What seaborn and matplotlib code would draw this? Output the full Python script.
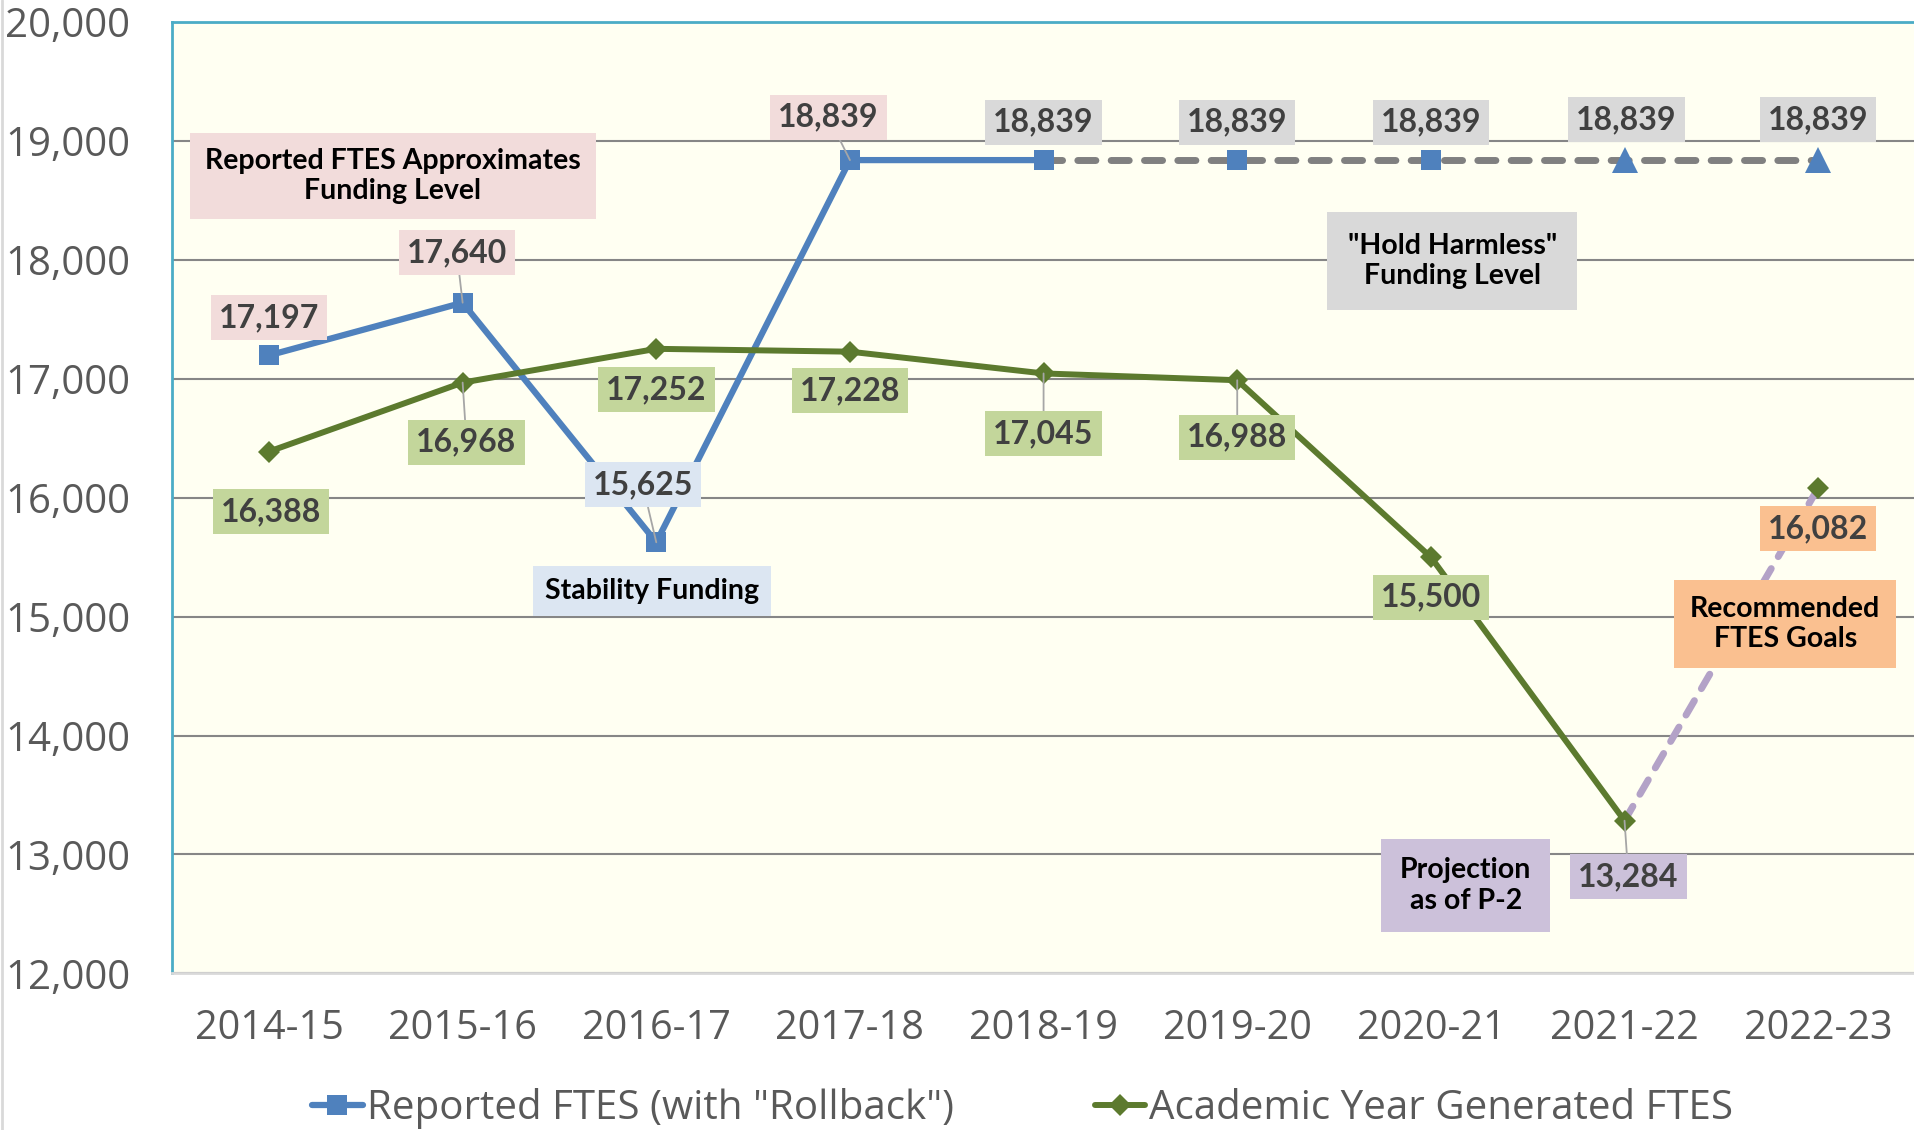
import matplotlib
matplotlib.use('Agg')
import matplotlib.pyplot as plt
import seaborn as sns
import pandas as pd
import numpy as np

# Data
years = ['2014-15', '2015-16', '2016-17', '2017-18', '2018-19',
         '2019-20', '2020-21', '2021-22', '2022-23']
reported_years = ['2014-15', '2015-16', '2016-17', '2017-18', '2018-19']
reported = [17197, 17640, 15625, 18839, 18839]
hold_years = ['2018-19', '2019-20', '2020-21', '2021-22', '2022-23']
hold_harmless = [18839, 18839, 18839, 18839, 18839]
hold_markers = ['', 's', 's', '^', '^']
academic_years = ['2014-15', '2015-16', '2016-17', '2017-18', '2018-19',
                  '2019-20', '2020-21', '2021-22']
academic = [16388, 16968, 17252, 17228, 17045, 16988, 15500, 13284]
goal_years = ['2021-22', '2022-23']
goal = [13284, 16082]

BLUE = '#4F81BD'
GREEN = '#5C7A2E'
GREY_DASH = '#808080'
LAVENDER = '#B3A2C7'
PINK_BOX = '#F2DCDB'
BLUE_BOX = '#DCE6F2'
GREEN_BOX = '#C3D69B'
GREY_BOX = '#D9D9D9'
LAV_BOX = '#CCC1DA'
ORANGE_BOX = '#FAC090'

sns.set_style('white')
plt.rcParams['font.family'] = ['Open Sans', 'DejaVu Sans']

pos = {y: i for i, y in enumerate(years)}
df_rep = pd.DataFrame({'x': [pos[y] for y in reported_years], 'v': reported})
df_hold = pd.DataFrame({'x': [pos[y] for y in hold_years], 'v': hold_harmless, 'm': hold_markers})
df_acad = pd.DataFrame({'x': [pos[y] for y in academic_years], 'v': academic})
df_goal = pd.DataFrame({'x': [pos[y] for y in goal_years], 'v': goal})

fig = plt.figure(figsize=(19.15, 11.30), dpi=100, facecolor='white')
ax = fig.add_axes([0.0899, 0.1386, 0.9101, 0.8419])
ax.set_facecolor('#FFFFF2')

# dashed hold harmless line
sns.lineplot(data=df_hold, x='x', y='v', ax=ax, color=GREY_DASH, lw=5,
             linestyle=(0, (2.6, 2.2)), dash_capstyle='round', label='_nolegend_', zorder=3)
for m in ['s', '^']:
    sub = df_hold[df_hold['m'] == m]
    sns.lineplot(data=sub, x='x', y='v', ax=ax, color=BLUE, lw=0, marker=m,
                 markersize=15 if m == 's' else 19, markeredgewidth=0,
                 label='_nolegend_', zorder=4)

# reported line
sns.lineplot(data=df_rep, x='x', y='v', ax=ax, color=BLUE, lw=4.5, marker='s',
             markersize=15, markeredgewidth=0, label='Reported FTES (with "Rollback")', zorder=5)

# goal dashed line
sns.lineplot(data=df_goal, x='x', y='v', ax=ax, color=LAVENDER, lw=5,
             linestyle=(0, (2.4, 2.0)), dash_capstyle='round', label='_nolegend_', zorder=3)
sns.lineplot(data=df_goal.iloc[1:], x='x', y='v', ax=ax, color=GREEN, lw=0, marker='D',
             markersize=11, markeredgewidth=0, label='_nolegend_', zorder=5)

# academic line
sns.lineplot(data=df_acad, x='x', y='v', ax=ax, color=GREEN, lw=4.3, marker='D',
             markersize=11, markeredgewidth=0, label='Academic Year Generated FTES', zorder=5)

ax.set_xlim(-0.5, 8.5)
ax.set_ylim(12000, 20000)
ax.set_yticks(np.arange(12000, 20001, 1000))
ax.set_yticklabels([f'{v:,}' for v in range(12000, 20001, 1000)])
ax.set_xticks(range(len(years)))
ax.set_xticklabels(years)
ax.tick_params(axis='y', length=0, pad=30, labelsize=29, labelcolor='#595959')
ax.tick_params(axis='x', length=0, pad=25, labelsize=28.5, labelcolor='#595959')
ax.set_xlabel('')
ax.set_ylabel('')
ax.yaxis.grid(True, color='#868686', lw=1.5)
ax.set_axisbelow(True)
for s in ['left', 'top']:
    ax.spines[s].set_color('#4BACC6')
    ax.spines[s].set_linewidth(2)
ax.spines['right'].set_visible(False)
ax.spines['bottom'].set_color('#D9D9D9')
ax.spines['bottom'].set_linewidth(2)

# value labels
def label(val, xp, ly, fc, xy, leader=False):
    ax.annotate(f'{val:,}', xy=xy, xytext=(xp, ly), textcoords='data',
                ha='center', va='center', fontsize=23, fontweight='bold',
                family=['Lato', 'DejaVu Sans'], color='#404040', zorder=6,
                bbox=dict(boxstyle='square,pad=0.25', fc=fc, ec='none'),
                arrowprops=dict(arrowstyle='-', color='#A6A6A6', lw=1.3,
                                shrinkA=0, shrinkB=0) if leader else None)

rep_lab = [(0.0, 17515, False), (0.97, 18059, True), (1.93, 16108, True),
           (2.89, 19199, True), (4.0, 19158, False)]
rep_box = [PINK_BOX, PINK_BOX, BLUE_BOX, PINK_BOX, GREY_BOX]
for (xp, ly, ld), fc, v, yr in zip(rep_lab, rep_box, reported, reported_years):
    label(v, xp, ly, fc, (pos[yr], v), ld)

hold_lab = [(5.0, 19158), (6.0, 19158), (7.01, 19178), (8.0, 19178)]
for (xp, ly), v, yr in zip(hold_lab, hold_harmless[1:], hold_years[1:]):
    label(v, xp, ly, GREY_BOX, (pos[yr], v))

acad_lab = [(0.01, 15882, False), (1.02, 16467, True), (2.0, 16909, False),
            (3.0, 16898, False), (4.0, 16539, True), (5.0, 16508, True),
            (6.0, 15163, False), (7.02, 12811, True)]
for (xp, ly, ld), v, yr in zip(acad_lab, academic, academic_years):
    label(v, xp, ly, LAV_BOX if yr == '2021-22' else GREEN_BOX, (pos[yr], v), ld)
label(goal[1], 8.0, 15738, ORANGE_BOX, (pos[goal_years[1]], goal[1]))

# callout boxes
def callout(txt, xp, yp, fc, pad):
    ax.text(xp, yp, txt, ha='center', va='center', fontsize=20.5, fontweight='bold',
            family=['Lato', 'DejaVu Sans'], color='black', linespacing=1.2, zorder=6,
            bbox=dict(boxstyle=f'square,pad={pad}', fc=fc, ec='none'))

callout('Reported FTES Approximates\nFunding Level', 0.64, 18706, PINK_BOX, 0.52)
callout('Stability Funding', 1.98, 15214, BLUE_BOX, 0.42)
callout('"Hold Harmless"\nFunding Level', 6.11, 17990, GREY_BOX, 0.72)
callout('Projection\nas of P-2', 6.18, 12739, LAV_BOX, 0.66)
callout('Recommended\nFTES Goals', 7.83, 14940, ORANGE_BOX, 0.56)

# legend
handles, labels = ax.get_legend_handles_labels()
if ax.legend_:
    ax.legend_.remove()
fig.legend(handles, labels, loc='center', bbox_to_anchor=(0.534, 0.019), ncol=2,
           frameon=False, fontsize=29, labelcolor='#595959', handlelength=1.25,
           handletextpad=0.1, columnspacing=3.5)

fig.add_artist(plt.Line2D([0.001, 0.001], [0, 1], color='#D9D9D9', lw=2))

plt.savefig('out.png', dpi=100)
